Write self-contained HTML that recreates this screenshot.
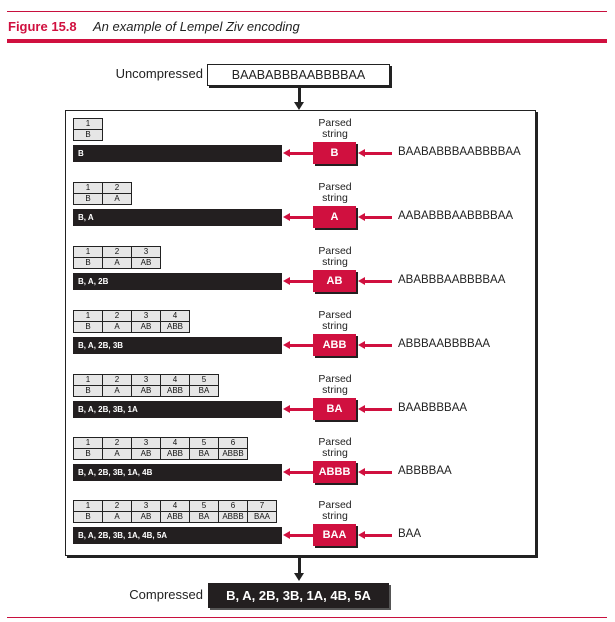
<!DOCTYPE html>
<html><head><meta charset="utf-8"><style>
body{margin:0;width:615px;height:622px;background:#fff;position:relative;overflow:hidden;font-family:"Liberation Sans",sans-serif;}
.a{position:absolute;}
.row{position:absolute;left:0;top:0;width:615px;height:64px;}
table{position:absolute;left:73px;top:0;border-collapse:collapse;font-size:8px;}
td{border:1px solid #222;background:#e6e6e6;width:28px;height:10px;padding:0;text-align:center;line-height:10px;color:#111;}
.bar{position:absolute;left:73px;top:27px;width:209px;height:17px;background:#231f20;color:#fff;font-size:8px;font-weight:bold;line-height:17px;text-indent:5px;}
.ps{position:absolute;left:305px;top:0;width:60px;text-align:center;font-size:10.5px;line-height:11px;color:#222;}
.rb{position:absolute;left:313px;top:24px;width:43px;height:22px;background:#d0103f;color:#fff;font-weight:bold;font-size:11px;text-align:center;line-height:22px;box-shadow:2px 2px 0 #231f20;}
.la{position:absolute;left:289px;top:34px;width:24px;height:3px;background:#d0103f;}
.lh{position:absolute;left:283px;top:31px;border-right:7px solid #d0103f;border-top:4.5px solid transparent;border-bottom:4.5px solid transparent;}
.ra{position:absolute;left:364px;top:34px;width:28px;height:3px;background:#d0103f;}
.rh{position:absolute;left:358px;top:31px;border-right:7px solid #d0103f;border-top:4.5px solid transparent;border-bottom:4.5px solid transparent;}
.in{position:absolute;left:398px;top:28px;font-size:11.5px;color:#222;}
</style></head><body>
<div class="a" style="left:7px;top:11px;width:600px;height:1px;background:#c8103e"></div>
<div class="a" style="left:8px;top:19px;font-size:13px;font-weight:bold;color:#d0103f">Figure 15.8</div>
<div class="a" style="left:93px;top:19px;font-size:13px;font-style:italic;color:#222">An example of Lempel Ziv encoding</div>
<div class="a" style="left:7px;top:39px;width:600px;height:4px;background:#d0103f"></div>

<div class="a" style="left:90px;top:66px;width:113px;text-align:right;font-size:13px;color:#222">Uncompressed</div>
<div class="a" style="left:207px;top:64px;width:181px;height:20px;border:1px solid #222;box-shadow:2px 2px 0 #222;font-size:12.5px;text-align:center;line-height:20px;color:#222;background:#fff">BAABABBBAABBBBAA</div>
<div class="a" style="left:298px;top:87px;width:3px;height:16px;background:#222"></div>
<div class="a" style="left:294px;top:102px;border-top:8px solid #222;border-left:5.5px solid transparent;border-right:5.5px solid transparent"></div>

<div class="a" style="left:65px;top:110px;width:469px;height:444px;border:1px solid #222;box-shadow:2px 2px 0 #222"></div>

<div class="row" style="top:118px">
<table><tr><td>1</td></tr><tr><td>B</td></tr></table>
<div class="bar">B</div><div class="ps">Parsed<br>string</div><div class="rb">B</div>
<div class="la"></div><div class="lh"></div><div class="ra"></div><div class="rh"></div><div class="in">BAABABBBAABBBBAA</div></div>

<div class="row" style="top:182px">
<table><tr><td>1</td><td>2</td></tr><tr><td>B</td><td>A</td></tr></table>
<div class="bar">B, A</div><div class="ps">Parsed<br>string</div><div class="rb">A</div>
<div class="la"></div><div class="lh"></div><div class="ra"></div><div class="rh"></div><div class="in">AABABBBAABBBBAA</div></div>

<div class="row" style="top:246px">
<table><tr><td>1</td><td>2</td><td>3</td></tr><tr><td>B</td><td>A</td><td>AB</td></tr></table>
<div class="bar">B, A, 2B</div><div class="ps">Parsed<br>string</div><div class="rb">AB</div>
<div class="la"></div><div class="lh"></div><div class="ra"></div><div class="rh"></div><div class="in">ABABBBAABBBBAA</div></div>

<div class="row" style="top:310px">
<table><tr><td>1</td><td>2</td><td>3</td><td>4</td></tr><tr><td>B</td><td>A</td><td>AB</td><td>ABB</td></tr></table>
<div class="bar">B, A, 2B, 3B</div><div class="ps">Parsed<br>string</div><div class="rb">ABB</div>
<div class="la"></div><div class="lh"></div><div class="ra"></div><div class="rh"></div><div class="in">ABBBAABBBBAA</div></div>

<div class="row" style="top:374px">
<table><tr><td>1</td><td>2</td><td>3</td><td>4</td><td>5</td></tr><tr><td>B</td><td>A</td><td>AB</td><td>ABB</td><td>BA</td></tr></table>
<div class="bar">B, A, 2B, 3B, 1A</div><div class="ps">Parsed<br>string</div><div class="rb">BA</div>
<div class="la"></div><div class="lh"></div><div class="ra"></div><div class="rh"></div><div class="in">BAABBBBAA</div></div>

<div class="row" style="top:437px">
<table><tr><td>1</td><td>2</td><td>3</td><td>4</td><td>5</td><td>6</td></tr><tr><td>B</td><td>A</td><td>AB</td><td>ABB</td><td>BA</td><td>ABBB</td></tr></table>
<div class="bar">B, A, 2B, 3B, 1A, 4B</div><div class="ps">Parsed<br>string</div><div class="rb">ABBB</div>
<div class="la"></div><div class="lh"></div><div class="ra"></div><div class="rh"></div><div class="in">ABBBBAA</div></div>

<div class="row" style="top:500px">
<table><tr><td>1</td><td>2</td><td>3</td><td>4</td><td>5</td><td>6</td><td>7</td></tr><tr><td>B</td><td>A</td><td>AB</td><td>ABB</td><td>BA</td><td>ABBB</td><td>BAA</td></tr></table>
<div class="bar">B, A, 2B, 3B, 1A, 4B, 5A</div><div class="ps">Parsed<br>string</div><div class="rb">BAA</div>
<div class="la"></div><div class="lh"></div><div class="ra"></div><div class="rh"></div><div class="in">BAA</div></div>

<div class="a" style="left:298px;top:557px;width:3px;height:17px;background:#222"></div>
<div class="a" style="left:294px;top:573px;border-top:8px solid #222;border-left:5.5px solid transparent;border-right:5.5px solid transparent"></div>
<div class="a" style="left:90px;top:587px;width:113px;text-align:right;font-size:13px;color:#222">Compressed</div>
<div class="a" style="left:208px;top:583px;width:181px;height:25px;background:#231f20;box-shadow:2px 2px 0 #555;color:#fff;font-weight:bold;font-size:13px;text-align:center;line-height:25px">B, A, 2B, 3B, 1A, 4B, 5A</div>
<div class="a" style="left:7px;top:617px;width:600px;height:1px;background:#c8103e"></div>
</body></html>
